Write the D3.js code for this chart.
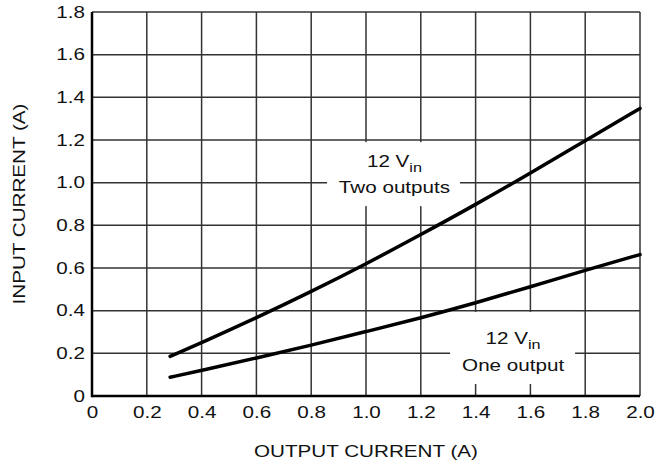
<!DOCTYPE html>
<html>
<head>
<meta charset="utf-8">
<script src="https://cdn.jsdelivr.net/npm/d3@7"></script>
<style>
  body { margin: 0; background: #fff; }
  text { font-family: "Liberation Sans", Arial, sans-serif; fill: #111; }
</style>
</head>
<body>
<div id="chart"></div>
<script>
const WIDTH = 666;
const HEIGHT = 469;
const MARGIN = { top: 12, right: 26, bottom: 73, left: 92 };
const FONT = 16.5;
const STRETCH = 1.25; // the reference type is wider than Arial

// Data
const xTicks = [0, 0.2, 0.4, 0.6, 0.8, 1.0, 1.2, 1.4, 1.6, 1.8, 2.0];
const yTicks = [0, 0.2, 0.4, 0.6, 0.8, 1.0, 1.2, 1.4, 1.6, 1.8];
const outputCurrent = [0.285, 0.4, 0.6, 0.8, 1.0, 1.2, 1.4, 1.6, 1.8, 2.0];
const twoOutputs = [0.186, 0.25, 0.366, 0.489, 0.619, 0.756, 0.897, 1.045, 1.197, 1.348];
const oneOutput = [0.088, 0.12, 0.178, 0.238, 0.302, 0.366, 0.436, 0.512, 0.59, 0.663];
const labelNames = ['Two outputs', 'One output'];

const w = WIDTH - MARGIN.left - MARGIN.right;
const h = HEIGHT - MARGIN.top - MARGIN.bottom;

const svg = d3.select('#chart')
    .append('svg')
    .attr('width', WIDTH)
    .attr('height', HEIGHT)
    .append('g')
    .attr('transform', `translate(${MARGIN.left},${MARGIN.top})`);

const x = d3.scaleLinear().domain([0, 2.0]).range([0, w]);
const y = d3.scaleLinear().domain([0, 1.8]).range([h, 0]);

function stretch(sel) {
    sel.each(function () {
        const len = this.getComputedTextLength();
        d3.select(this)
            .attr('textLength', len * STRETCH)
            .attr('lengthAdjust', 'spacingAndGlyphs');
    });
}

// Grid
svg.append('g')
    .selectAll('line')
    .data(xTicks.slice(1))
    .enter()
    .append('line')
    .attr('x1', d => x(d)).attr('x2', d => x(d))
    .attr('y1', 0).attr('y2', h)
    .style('stroke', '#333')
    .style('stroke-width', 1.5);

svg.append('g')
    .selectAll('line')
    .data(yTicks.slice(1))
    .enter()
    .append('line')
    .attr('x1', 0).attr('x2', w)
    .attr('y1', d => y(d)).attr('y2', d => y(d))
    .style('stroke', '#333')
    .style('stroke-width', 1.5);

// Label boxes that blank the grid
const labels = [
    { cx: 1.104, cy: 1.0, top: -16, bot: 10, bx0: 0.858, bx1: 1.343, by0: 0.89, by1: 1.19, sub: labelNames[0] },
    { cx: 1.537, cy: 0.2, top: -9, bot: 18, bx0: 1.307, bx1: 1.763, by0: 0.056, by1: 0.394, sub: labelNames[1] },
];

labels.forEach(l => {
    svg.append('rect')
        .attr('x', x(l.bx0))
        .attr('y', y(l.by1))
        .attr('width', x(l.bx1) - x(l.bx0))
        .attr('height', y(l.by0) - y(l.by1))
        .style('fill', '#fff');
});

// Curves
const line = d3.line()
    .x(d => x(d[0]))
    .y(d => y(d[1]))
    .curve(d3.curveBasis);

[twoOutputs, oneOutput].forEach(series => {
    svg.append('path')
        .datum(outputCurrent.map((v, i) => [v, series[i]]))
        .attr('d', line)
        .style('fill', 'none')
        .style('stroke', '#000')
        .style('stroke-width', 3.5)
        .style('stroke-linecap', 'round');
});

// Label text
labels.forEach(l => {
    const g1 = svg.append('g')
        .attr('transform', `translate(${x(l.cx)},${y(l.cy) + l.top}) scale(${STRETCH},1)`);
    const t1 = g1.append('text')
        .style('text-anchor', 'middle')
        .style('font-size', FONT + 'px');
    t1.append('tspan').text('12 V');
    t1.append('tspan').attr('dy', 5).style('font-size', '13px').text('in');

    svg.append('text')
        .attr('x', x(l.cx))
        .attr('y', y(l.cy) + l.bot)
        .style('text-anchor', 'middle')
        .style('font-size', FONT + 'px')
        .text(l.sub)
        .call(stretch);
});

// Axes
const fmt = d => d === 0 ? '0' : d3.format('.1f')(d);

const xAxis = svg.append('g')
    .attr('transform', `translate(0,${h})`)
    .call(d3.axisBottom(x).tickValues(xTicks).tickSize(0).tickPadding(10).tickFormat(fmt));
xAxis.select('.domain').remove();
xAxis.selectAll('text')
    .style('font-size', FONT + 'px')
    .style('font-family', '"Liberation Sans", Arial, sans-serif')
    .attr('dy', '0.71em')
    .call(stretch);

const yAxis = svg.append('g')
    .call(d3.axisLeft(y).tickValues(yTicks).tickSize(0).tickPadding(7).tickFormat(fmt));
yAxis.select('.domain').remove();
yAxis.selectAll('text')
    .style('font-size', FONT + 'px')
    .style('font-family', '"Liberation Sans", Arial, sans-serif')
    .call(stretch);

svg.append('line')
    .attr('x1', 0).attr('x2', w)
    .attr('y1', h).attr('y2', h)
    .style('stroke', '#000').style('stroke-width', 2.5);
svg.append('line')
    .attr('x1', 0).attr('x2', 0)
    .attr('y1', 0).attr('y2', h + 1.25)
    .style('stroke', '#000').style('stroke-width', 2.5);

// Axis titles
svg.append('text')
    .attr('x', w / 2)
    .attr('y', h + 61)
    .style('text-anchor', 'middle')
    .style('font-size', FONT + 'px')
    .text('OUTPUT CURRENT (A)')
    .call(stretch);

svg.append('text')
    .attr('transform', `translate(${-67},${h / 2}) rotate(-90)`)
    .style('text-anchor', 'middle')
    .style('font-size', FONT + 'px')
    .text('INPUT CURRENT (A)')
    .call(stretch);
</script>
</body>
</html>
